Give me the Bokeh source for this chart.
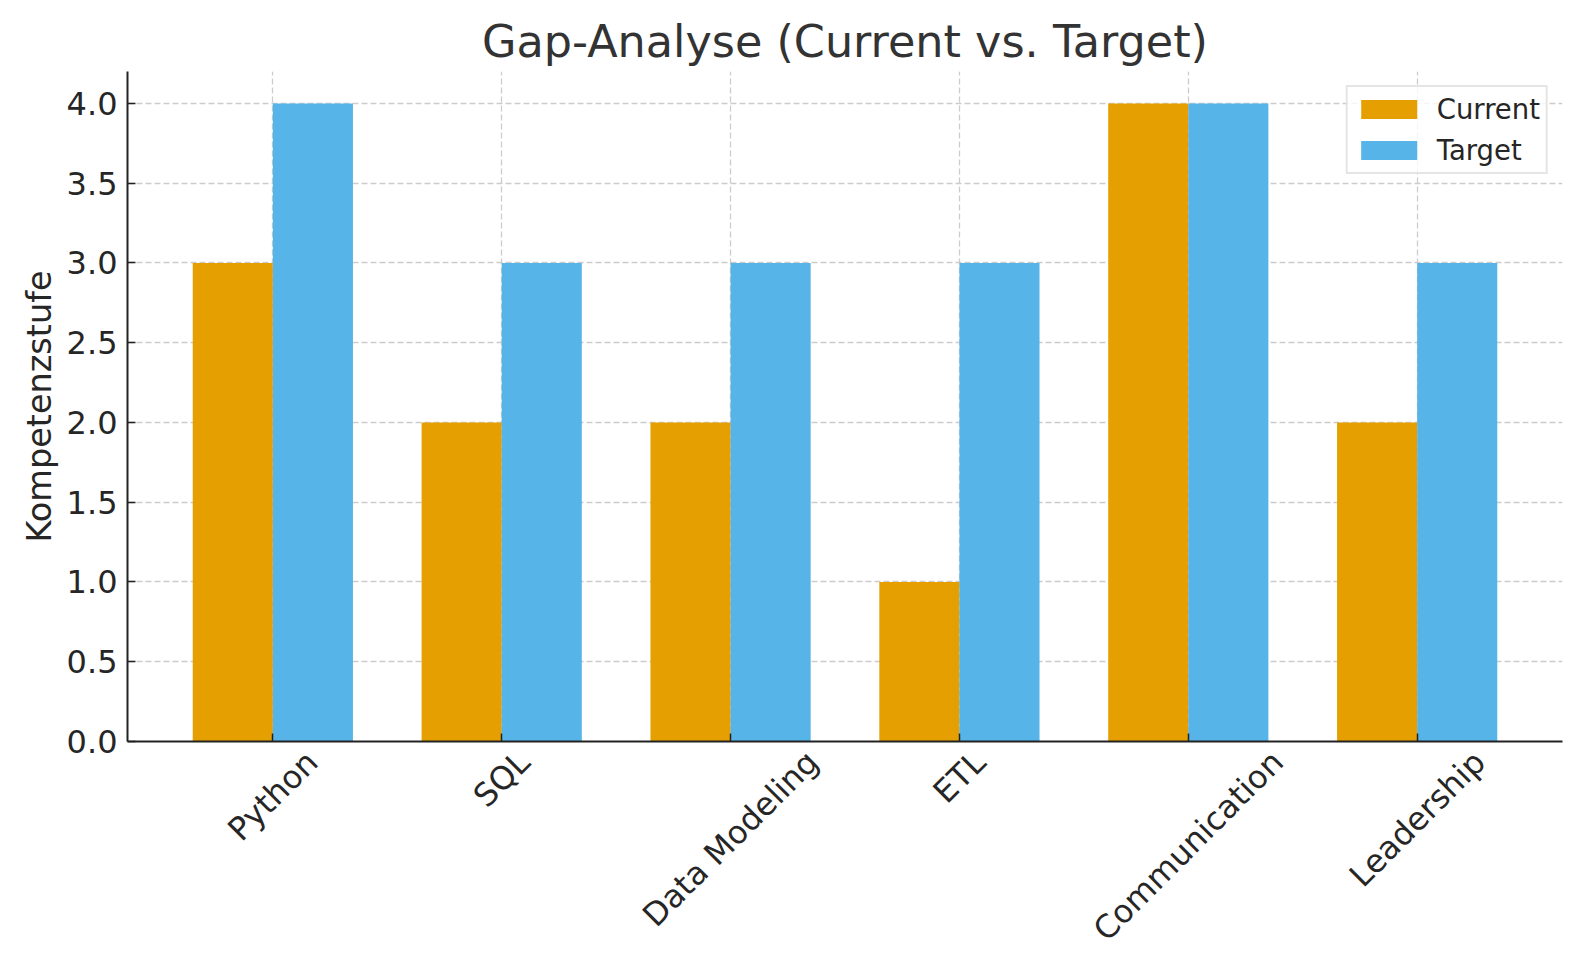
import math
from bokeh.plotting import figure
from bokeh.models import FixedTicker, Range1d, ColumnDataSource, LinearAxis
from bokeh.embed import file_html
from bokeh.resources import INLINE

categories = ["Python", "SQL", "Data Modeling", "ETL", "Communication", "Leadership"]
current = [3, 2, 2, 1, 4, 2]
target = [4, 3, 3, 3, 4, 3]
y_ticks = [0.0, 0.5, 1.0, 1.5, 2.0, 2.5, 3.0, 3.5, 4.0]

BAR_W = 0.35
xs = list(range(len(categories)))
src = ColumnDataSource(dict(
    xc=[x - BAR_W / 2 for x in xs],
    xt=[x + BAR_W / 2 for x in xs],
    current=current,
    target=target,
))

FONT = "DejaVu Sans"
TXT = "#262626"
TICK_PX = 32

W, H = 1564, 964
BL, BR, BT, BB = 127, 2, 71, 221
X0, X1 = -0.635, len(categories) - 0.365
PPU = (W - BL - BR) / (X1 - X0)

# approximate DejaVu Sans advance widths (em): used to centre the rotated
# category labels under their ticks (matplotlib style ha="center")
_W = {"P": .603, "y": .592, "t": .392, "h": .634, "o": .612, "n": .634, "S": .635,
      "Q": .787, "L": .557, "D": .770, "a": .613, " ": .318, "M": .863, "d": .635,
      "e": .615, "l": .278, "i": .278, "g": .635, "E": .632, "T": .611, "C": .698,
      "m": .974, "u": .634, "c": .550, "r": .411, "s": .521, "p": .635}


def _shift(s):
    L = sum(_W.get(ch, 0.6) for ch in s) * TICK_PX
    return L * math.sin(math.pi / 4) / 2 / PPU


label_ticks = [round(x + _shift(c), 5) for x, c in zip(xs, categories)]

p = figure(width=W, height=H, output_backend="svg", toolbar_location=None,
           x_range=Range1d(X0, X1), y_range=Range1d(0, 4.2),
           min_border_left=BL, min_border_right=BR,
           min_border_top=BT, min_border_bottom=BB)

p.vbar(x="xc", top="current", width=BAR_W, source=src, fill_color="#E69F00",
       line_color=None, legend_label="Current")
p.vbar(x="xt", top="target", width=BAR_W, source=src, fill_color="#56B4E9",
       line_color=None, legend_label="Target")

p.title.text = "Gap-Analyse (Current vs. Target)"
p.title.align = "center"
p.title.text_font = FONT
p.title.text_font_size = "44.5px"
p.title.text_font_style = "normal"
p.title.text_color = "#333333"

p.outline_line_color = None

p.xaxis.ticker = FixedTicker(ticks=xs)
p.xaxis.major_label_overrides = {x: "" for x in xs}
p.yaxis.ticker = FixedTicker(ticks=y_ticks)
p.yaxis.major_label_overrides = {t: f"{t:.1f}" for t in y_ticks}
p.yaxis.axis_label = "Kompetenzstufe"

for ax in (p.xaxis, p.yaxis):
    ax.axis_line_color = "#222222"
    ax.axis_line_width = 2
    ax.major_tick_line_color = "#222222"
    ax.major_tick_line_width = 1.5
    ax.major_tick_in = 8
    ax.major_tick_out = 0
    ax.minor_tick_line_color = None
    ax.major_label_text_font = FONT
    ax.major_label_text_font_size = "32px"
    ax.major_label_text_color = TXT
    ax.axis_label_text_font = FONT
    ax.axis_label_text_font_size = "33.5px"
    ax.axis_label_text_font_style = "normal"
    ax.axis_label_text_color = TXT
p.yaxis.major_label_standoff = 10
p.xaxis.major_label_standoff = 0
p.xaxis.major_label_text_font_size = "1px"

# category labels (rotated 45 degrees, centred on the ticks)
lab_axis = LinearAxis(ticker=FixedTicker(ticks=label_ticks),
                      major_label_overrides={t: c for t, c in zip(label_ticks, categories)},
                      major_label_orientation=math.pi / 4,
                      major_label_standoff=9,
                      major_label_text_font=FONT,
                      major_label_text_font_size=f"{TICK_PX}px",
                      major_label_text_color=TXT,
                      axis_line_color=None, major_tick_line_color=None,
                      minor_tick_line_color=None)
p.add_layout(lab_axis, "below")

for g in (p.xgrid, p.ygrid):
    g.grid_line_color = "#cccccc"
    g.grid_line_dash = "6 3"
    g.grid_line_width = 1.3

lg = p.legend[0]
lg.location = "top_right"
lg.margin = 14
lg.padding = 6
lg.spacing = 9
lg.glyph_width = 70
lg.glyph_height = 24
lg.label_standoff = 13
lg.label_text_font = FONT
lg.label_text_font_size = "27.5px"
lg.label_text_color = TXT
lg.border_line_color = "#cccccc"
lg.border_line_width = 2
lg.background_fill_alpha = 0.8

open("out.html", "w").write(file_html(p, INLINE))
